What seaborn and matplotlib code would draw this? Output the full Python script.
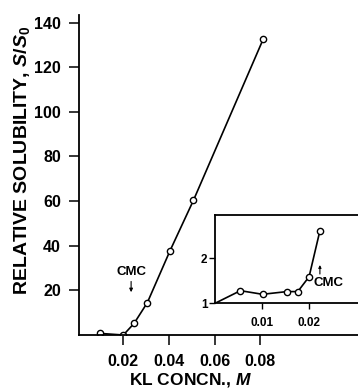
import numpy as np
import matplotlib
matplotlib.use("Agg")
import matplotlib.pyplot as plt
import seaborn as sns
import pandas as pd

# main curve: relative solubility vs KL concentration
kl_concn = [0.010, 0.020, 0.0247, 0.0305, 0.0404, 0.0507, 0.0813]
rel_sol = [0.7, 0.0, 5.2, 14.5, 37.7, 60.4, 132.8]

# inset: low concentration region
kl_low = [0.0, 0.0054, 0.0101, 0.0153, 0.0176, 0.0200, 0.0223]
rel_low = [1.0, 1.28, 1.20, 1.26, 1.26, 1.59, 2.61]

main_xticks = [0.02, 0.04, 0.06, 0.08]
main_xlabels = ["0.02", "0.04", "0.06", "0.08"]
main_yticks = [20, 40, 60, 80, 100, 120, 140]
inset_xticks = [0.01, 0.02]
inset_xlabels = ["0.01", "0.02"]
inset_yticks = [1, 2]

sns.set_style("ticks")
plt.rcParams['font.family'] = ['Liberation Sans', 'DejaVu Sans']
plt.rcParams['font.weight'] = 'bold'
plt.rcParams['text.color'] = 'black'
plt.rcParams['axes.labelcolor'] = 'black'
plt.rcParams['mathtext.fontset'] = 'custom'
plt.rcParams['mathtext.rm'] = 'Liberation Sans:bold'
plt.rcParams['mathtext.it'] = 'Liberation Sans:italic:bold'
plt.rcParams['mathtext.bf'] = 'Liberation Sans:bold'

fig = plt.figure(figsize=(3.58, 3.89), dpi=100)
ax = fig.add_axes([0.2207, 0.1388, 0.7793, 0.8226])

df = pd.DataFrame({"x": kl_concn, "y": rel_sol})
sns.lineplot(data=df, x="x", y="y", ax=ax, sort=False, color="black", lw=1.2,
             marker="o", markersize=4.5, markerfacecolor="white",
             markeredgecolor="black", markeredgewidth=1.0)
ax.set_xlim(0.0006, 0.1227)
ax.set_ylim(0, 143.4)
ax.set_xticks(main_xticks)
ax.set_xticklabels(main_xlabels)
ax.set_yticks(main_yticks)
ax.tick_params(axis="both", direction="out", length=7, width=1.1, labelsize=11.5, colors="black")
ax.tick_params(axis="y", pad=6)
ax.tick_params(axis="x", pad=7)
for lab in ax.get_xticklabels() + ax.get_yticklabels():
    lab.set_fontweight("bold")
ax.spines["top"].set_visible(False)
ax.spines["right"].set_visible(False)
for s in ["left", "bottom"]:
    ax.spines[s].set_linewidth(1.3)
    ax.spines[s].set_color("black")
ax.set_xlabel("KL CONCN., $M$", fontsize=12.5, fontweight="bold")
ax.xaxis.label.set_va("center")
ax.xaxis.set_label_coords(0.398, -0.141)
ax.set_ylabel("RELATIVE SOLUBILITY, $S/S_{0}$", fontsize=14, fontweight="bold")
ax.yaxis.label.set_va("center")
ax.yaxis.set_label_coords(-0.206, 0.545)

ax.text(0.0234, 28.3, "CMC", ha="center", va="center", fontsize=9.5, fontweight="bold")
ax.annotate("", xy=(0.0234, 19.2), xytext=(0.0234, 24.0),
            arrowprops=dict(arrowstyle="-|>", color="black", lw=0.8, mutation_scale=5,
                            shrinkA=0, shrinkB=0))

# inset
axi = fig.add_axes([0.6006, 0.2203, 0.3994, 0.227])
dfi = pd.DataFrame({"x": kl_low, "y": rel_low})
sns.lineplot(data=dfi, x="x", y="y", ax=axi, sort=False, color="black", lw=1.2,
             marker="o", markersize=4.5, markerfacecolor="white",
             markeredgecolor="black", markeredgewidth=1.0,
             markevery=list(range(1, len(kl_low))))
axi.set_xlim(0.0, 0.0304)
axi.set_ylim(1.0, 2.96)
axi.set_xticks(inset_xticks)
axi.set_xticklabels(inset_xlabels)
axi.set_yticks(inset_yticks)
axi.tick_params(axis="both", direction="out", length=4, width=1.0, labelsize=8.5, colors="black")
axi.tick_params(axis="y", pad=1.5)
axi.tick_params(axis="x", pad=6)
for lab in axi.get_xticklabels() + axi.get_yticklabels():
    lab.set_fontweight("bold")
axi.spines["right"].set_visible(False)
for s in ["left", "bottom", "top"]:
    axi.spines[s].set_linewidth(1.3)
    axi.spines[s].set_color("black")
axi.set_xlabel("")
axi.set_ylabel("")
axi.text(0.0242, 1.44, "CMC", ha="center", va="center", fontsize=9.5, fontweight="bold")
axi.annotate("", xy=(0.0223, 1.85), xytext=(0.0223, 1.65),
             arrowprops=dict(arrowstyle="-|>", color="black", lw=0.8, mutation_scale=4,
                             shrinkA=0, shrinkB=0))

fig.savefig("out.png", dpi=100)
